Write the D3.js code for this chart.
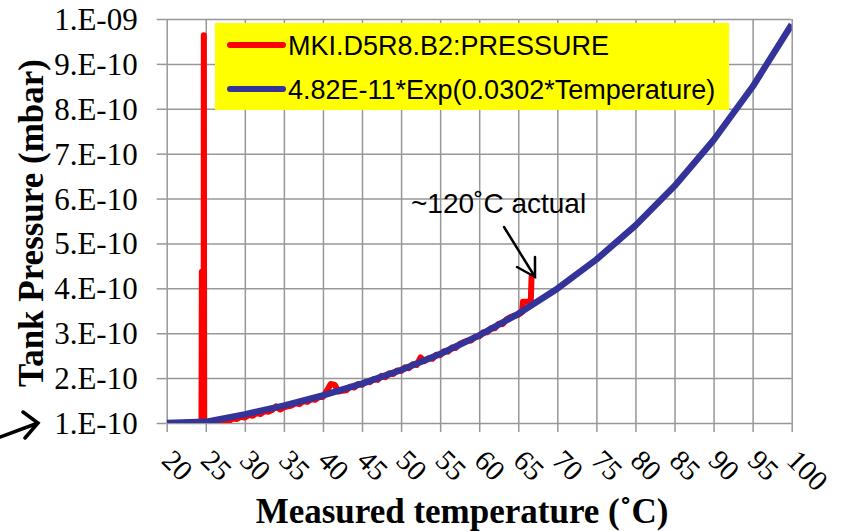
<!DOCTYPE html>
<html>
<head>
<meta charset="utf-8">
<script src="https://cdn.jsdelivr.net/npm/d3@7"></script>
<style>
  body { margin: 0; background: #fff; }
  svg { display: block; }
</style>
</head>
<body>
<div id="chart"></div>
<script>
// --- data (pressure in mbar) ---
const xTicks = [20, 25, 30, 35, 40, 45, 50, 55, 60, 65, 70, 75, 80, 85, 90, 95, 100];
const yTicks = [1e-10, 2e-10, 3e-10, 4e-10, 5e-10, 6e-10, 7e-10, 8e-10, 9e-10, 1e-9];
const yTickLabels = ["1.E-10", "2.E-10", "3.E-10", "4.E-10", "5.E-10", "6.E-10", "7.E-10", "8.E-10", "9.E-10", "1.E-09"];

// fit curve, sampled every 5 degC
const fitTemps = [20, 25, 30, 35, 40, 45, 50, 55, 60, 65, 70, 75, 80, 85, 90, 95, 100];
const fitPressure = [0.882e-10, 1.026e-10, 1.193e-10, 1.387e-10, 1.613e-10, 1.876e-10, 2.182e-10, 2.538e-10,
  2.951e-10, 3.432e-10, 3.992e-10, 4.642e-10, 5.399e-10, 6.279e-10, 7.303e-10, 8.493e-10, 9.877e-10];

// measured tank pressure (units of 1E-10 mbar)
const measTemps = [24.45, 24.50, 24.52, 24.73, 24.75, 24.80, 25.0, 25.5, 26.0, 26.5, 27.0, 27.5, 28.0, 28.5, 29.0, 29.5,
  30.0, 30.5, 31.0, 31.5, 32.0, 32.5, 33.0, 33.5, 34.0, 34.5, 35.0, 35.5, 36.0, 36.5, 37.0, 37.5, 38.0, 38.5,
  39.0, 39.5, 40.0, 40.5, 41.0, 41.5, 42.0, 42.5, 43.0, 43.5, 44.0, 44.5, 45.0, 45.5, 46.0, 46.5, 47.0, 47.5,
  48.0, 48.5, 49.0, 49.5, 50.0, 50.5, 51.0, 51.5, 52.0, 52.5, 53.0, 53.5, 54.0, 54.5, 55.0, 55.5, 56.0, 56.5,
  57.0, 57.5, 58.0, 58.5, 59.0, 59.5, 60.0, 60.5, 61.0, 61.5, 62.0, 62.5, 63.0, 63.5, 64.0, 64.5, 65.0, 65.5,
  65.6, 66.6, 66.7];
const measPressure = [1.00, 4.37, 1.00, 1.00, 9.64, 1.00, 0.99, 1.00, 1.00, 1.03, 1.02, 1.07, 1.05, 1.10, 1.09, 1.14,
  1.12, 1.18, 1.16, 1.22, 1.20, 1.26, 1.25, 1.29, 1.37, 1.30, 1.35, 1.37, 1.39, 1.44, 1.42, 1.49, 1.47, 1.53,
  1.52, 1.58, 1.58, 1.72, 1.87, 1.85, 1.70, 1.72, 1.73, 1.81, 1.79, 1.87, 1.85, 1.92, 1.91, 1.98, 1.96, 2.05,
  2.02, 2.11, 2.09, 2.17, 2.16, 2.24, 2.22, 2.31, 2.29, 2.46, 2.38, 2.44, 2.43, 2.52, 2.51, 2.60, 2.59, 2.68,
  2.67, 2.76, 2.80, 2.83, 2.84, 2.92, 2.93, 3.02, 3.02, 3.11, 3.11, 3.21, 3.20, 3.31, 3.36, 3.39, 3.41, 3.47,
  3.70, 3.70, 4.25];

const seriesNames = ["MKI.D5R8.B2:PRESSURE", "4.82E-11*Exp(0.0302*Temperature)"];
const seriesColors = ["#ff0000", "#333399"];

// --- layout ---
const W = 847, H = 531;
const margin = { left: 166.7, right: 55.3, top: 19, bottom: 108 };
const pw = W - margin.left - margin.right;
const ph = H - margin.top - margin.bottom;
const serif = "'Liberation Serif', 'Times New Roman', serif";
const sans = "'Liberation Sans', Arial, sans-serif";

const svg = d3.select("#chart").append("svg")
  .attr("width", W)
  .attr("height", H);

const x = d3.scaleLinear().domain([20, 100]).range([0, pw]);
const y = d3.scaleLinear().domain([1e-10, 1e-9]).range([ph, 0]).clamp(true);

const g = svg.append("g").attr("transform", `translate(${margin.left},${margin.top})`);

svg.append("defs").append("clipPath").attr("id", "plot-clip")
  .append("rect").attr("width", pw).attr("height", ph);

// gridlines
g.append("g")
  .attr("class", "grid")
  .call(d3.axisLeft(y).tickValues(yTicks).tickSize(-pw).tickFormat(""))
  .call(s => s.select(".domain").remove());
g.append("g")
  .attr("class", "grid")
  .attr("transform", `translate(0,${ph})`)
  .call(d3.axisBottom(x).tickValues(xTicks).tickSize(-ph).tickFormat(""))
  .call(s => s.select(".domain").remove());
g.selectAll(".grid line").attr("stroke", "#979797").attr("stroke-width", 1.5);

// y axis
const yAxis = g.append("g")
  .call(d3.axisLeft(y).tickValues(yTicks).tickSize(10).tickPadding(19)
    .tickFormat((d, i) => yTickLabels[i]));
yAxis.select(".domain").remove();
yAxis.selectAll("line").attr("stroke", "#979797").attr("stroke-width", 1.5);
yAxis.selectAll("text")
  .attr("dy", "0.34em")
  .style("font-family", serif)
  .style("font-size", "31px")
  .attr("fill", "#000");

// x axis
const xAxis = g.append("g")
  .attr("transform", `translate(0,${ph})`)
  .call(d3.axisBottom(x).tickValues(xTicks).tickSize(9));
xAxis.select(".domain").remove();
xAxis.selectAll("line").attr("stroke", "#979797").attr("stroke-width", 1.5);
xAxis.selectAll("text")
  .attr("x", 0).attr("y", 0).attr("dy", null)
  .attr("transform", "translate(-7,39) rotate(45)")
  .style("text-anchor", "start")
  .style("font-family", serif)
  .style("font-size", "29px")
  .attr("fill", "#000");

// series
const measured = measTemps.map((t, i) => [t, measPressure[i] * 1e-10]);
const fitted = fitTemps.map((t, i) => [t, fitPressure[i]]);
const line = d3.line().x(d => x(d[0])).y(d => y(d[1]));

const plot = g.append("g").attr("clip-path", "url(#plot-clip)");
plot.append("path")
  .datum(measured)
  .attr("d", line)
  .attr("fill", "none")
  .attr("stroke", seriesColors[0])
  .attr("stroke-width", 6)
  .attr("stroke-linejoin", "round")
  .attr("stroke-linecap", "round");
plot.append("path")
  .datum(fitted)
  .attr("d", line)
  .attr("fill", "none")
  .attr("stroke", seriesColors[1])
  .attr("stroke-width", 6.5)
  .attr("stroke-linejoin", "round");

// legend
const legend = svg.append("g").attr("transform", "translate(215,23)");
legend.append("rect").attr("width", 514).attr("height", 87).attr("fill", "#ffff00");
seriesNames.forEach((name, i) => {
  const ly = 22 + i * 44;
  legend.append("line")
    .attr("x1", 15).attr("x2", 68).attr("y1", ly).attr("y2", ly)
    .attr("stroke", seriesColors[i]).attr("stroke-width", 6).attr("stroke-linecap", "round");
  legend.append("text")
    .attr("x", 73).attr("y", ly + 9.5)
    .style("font-family", sans).style("font-size", "27px")
    .text(name);
});

// axis titles
svg.append("text")
  .attr("transform", `translate(43,${margin.top + ph / 2 + 2}) rotate(-90)`)
  .attr("text-anchor", "middle")
  .style("font-family", serif).style("font-size", "35px").style("font-weight", "bold")
  .text("Tank Pressure (mbar)");
svg.append("text")
  .attr("x", 462).attr("y", 523)
  .attr("text-anchor", "middle")
  .style("font-family", serif).style("font-size", "35px").style("font-weight", "bold")
  .text("Measured temperature (˚C)");

// annotation
svg.append("text")
  .attr("x", 411).attr("y", 213)
  .style("font-family", sans).style("font-size", "28px")
  .text("~120˚C actual");

const arrows = svg.append("g").attr("fill", "none").attr("stroke", "#000").attr("stroke-linecap", "round");
arrows.append("path").attr("stroke-width", 2.5)
  .attr("d", "M504,227 L535,277 M517,267 L535,277 L535,257");
arrows.append("path").attr("stroke-width", 3.5)
  .attr("d", "M0,437 L38,423 M23,412 L38,423 L25,438");
</script>
</body>
</html>
